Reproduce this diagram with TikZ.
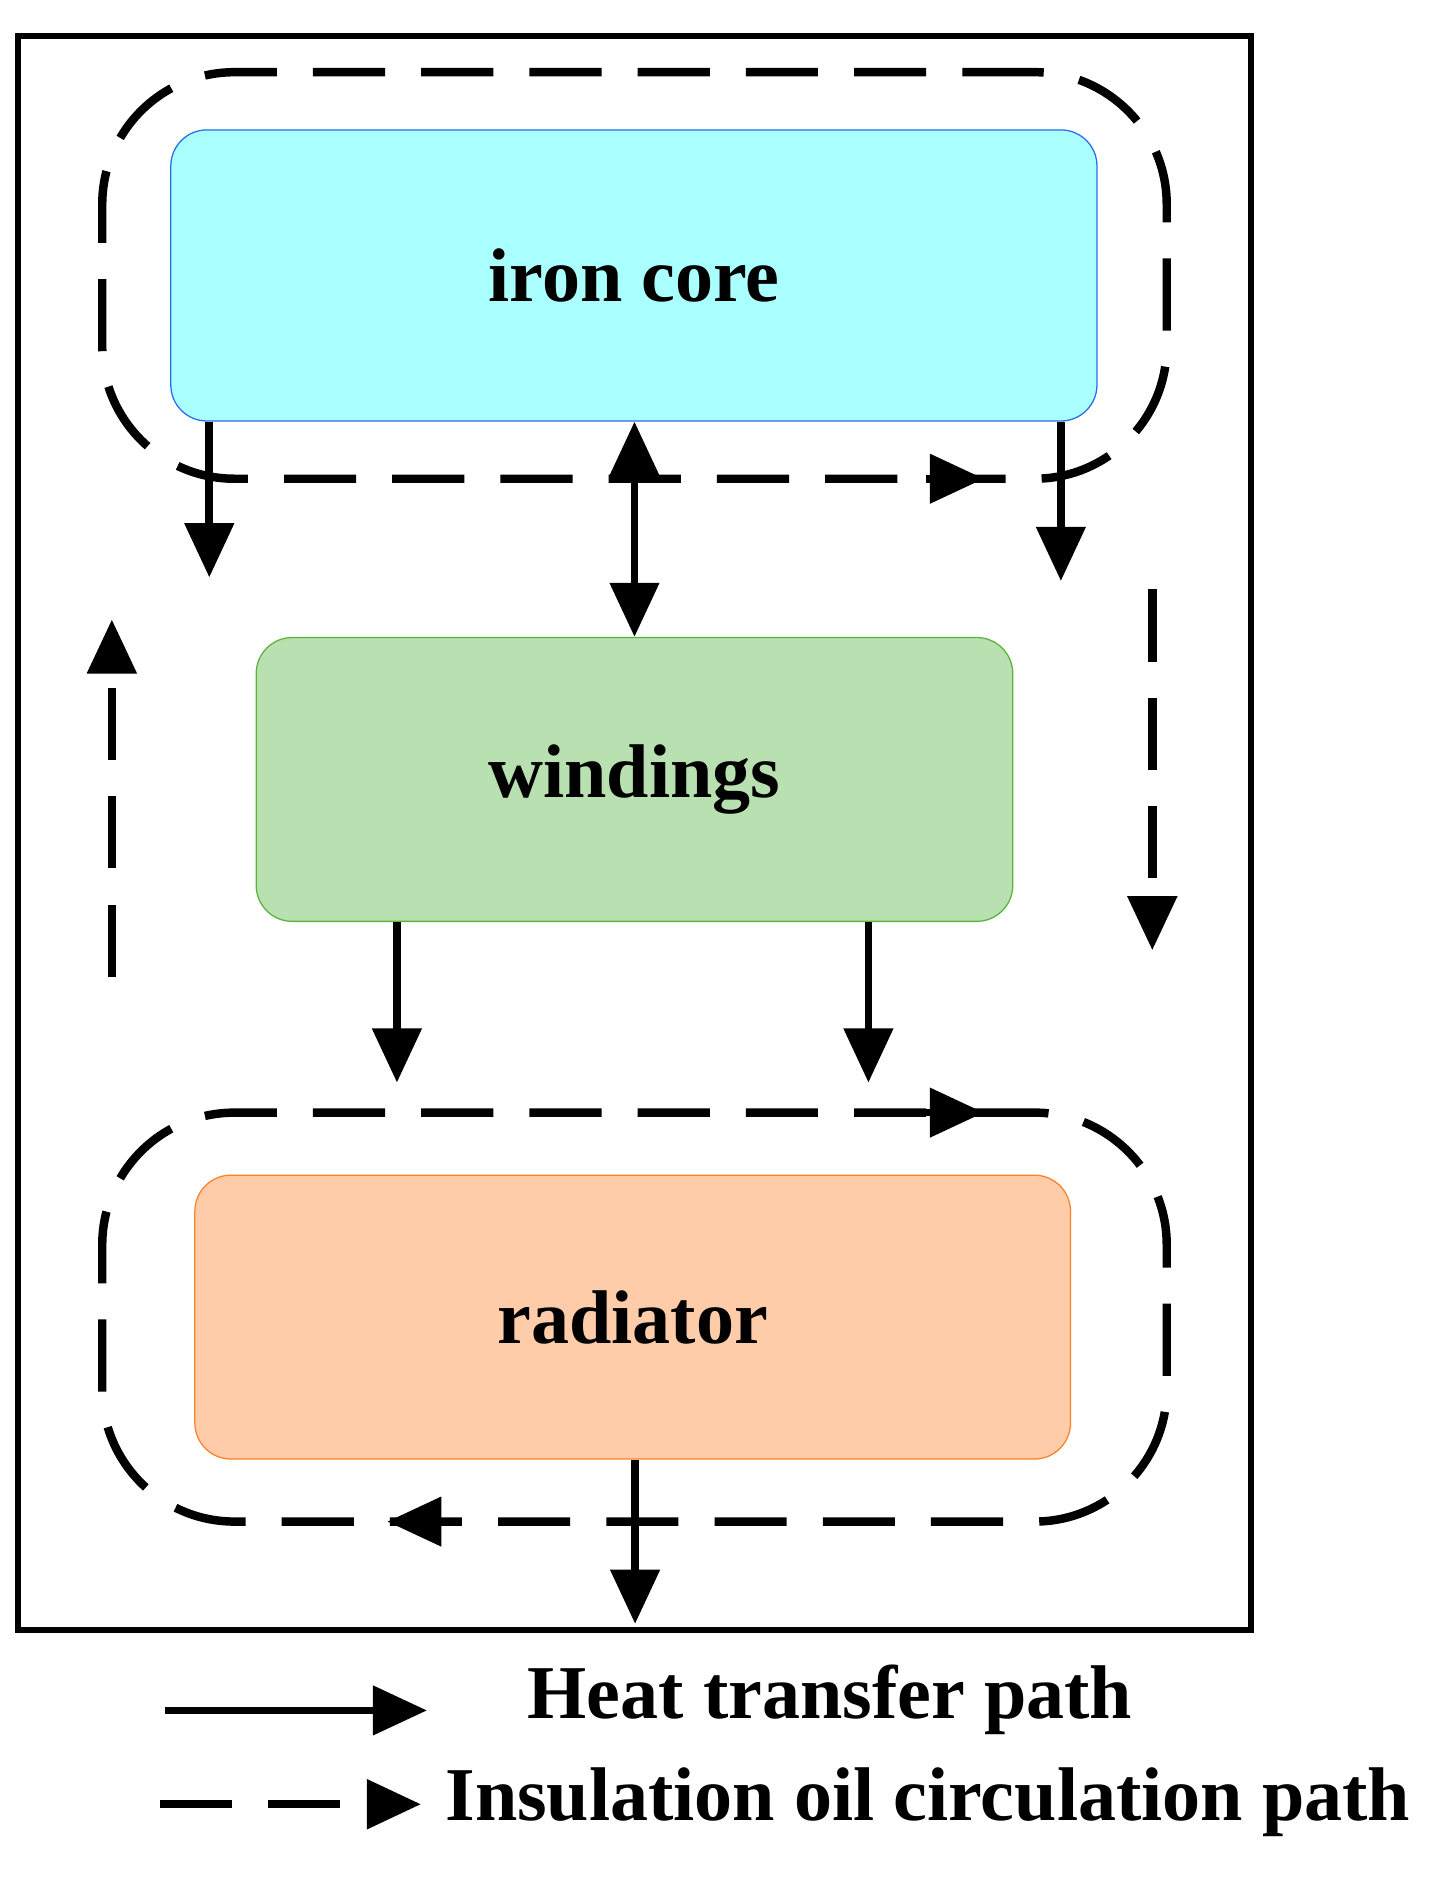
\documentclass[tikz,border=0pt]{standalone}
\usepackage{fontspec}
\setmainfont{Liberation Serif}
\usetikzlibrary{arrows.meta}
\begin{document}
\begin{tikzpicture}[x=0.02cm,y=-0.02cm,
  tip/.style={-{Triangle[length=0.9cm,width=0.8cm]}},
  heat/.style={line width=3.6pt,tip},
  oil/.style={line width=4pt,dash pattern=on 1.2cm off 0.6cm},
  box/.style={rounded corners=0.6cm,line width=0.6pt,inner sep=0pt,font=\fontsize{36}{42}\selectfont\bfseries},
  loop/.style={draw,oil,rounded corners=2.2cm,inner sep=0pt}]
\useasboundingbox (0,0) rectangle (1190,1563);
\node[draw,line width=2.8pt,minimum width=1025*0.02cm,minimum height=1325*0.02cm,inner sep=0pt] (frame) at (527.5,692.5) {};
% dashed loops
\node[loop,minimum width=885*0.02cm,minimum height=338*0.02cm] (loop1) at (527.5,229) {};
\node[loop,minimum width=885*0.02cm,minimum height=340*0.02cm] (loop2) at (527.5,1095) {};
% boxes
\node[box,draw={rgb,255:red,40;green,110;blue,230},fill={rgb,255:red,170;green,255;blue,255},minimum width=770*0.02cm,minimum height=242*0.02cm] (core) at (527,229) {iron core};
\node[box,draw={rgb,255:red,90;green,180;blue,60},fill={rgb,255:red,185;green,224;blue,176},minimum width=629*0.02cm,minimum height=236*0.02cm] (wind) at (527.5,648) {windings};
\node[box,draw={rgb,255:red,250;green,130;blue,40},fill={rgb,255:red,255;green,204;blue,170},minimum width=728*0.02cm,minimum height=236*0.02cm] (rad) at (526,1095) {radiator};
% heat arrows
\coordinate (a1) at (174,480); \coordinate (a2) at (882,483);
\draw[heat] (core.south -| a1) -- (a1);
\draw[heat] (core.south -| a2) -- (a2);
\draw[line width=3.6pt,{Triangle[length=0.9cm,width=0.8cm]}-{Triangle[length=0.9cm,width=0.8cm]}] (core.south -| wind.north) -- (wind.north);
\coordinate (b1) at (330,900); \coordinate (b2) at (722,900);
\draw[heat] (wind.south -| b1) -- (b1);
\draw[heat] (wind.south -| b2) -- (b2);
\coordinate (c1) at (528,1350);
\draw[heat] (rad.south -| c1) -- (c1);
% oil arrows on loops
\coordinate (t1s) at (770,398); \coordinate (t1e) at (818,398);
\draw[tip,line width=3.6pt] (t1s) -- (t1e);
\coordinate (t2s) at (770,925); \coordinate (t2e) at (818,925);
\draw[tip,line width=3.6pt] (t2s) -- (t2e);
\coordinate (t3s) at (370,1265); \coordinate (t3e) at (322,1265);
\draw[tip,line width=3.6pt] (t3s) -- (t3e);
% side dashed paths
\coordinate (l1) at (93,812); \coordinate (l2) at (93,515);
\draw[oil,tip] (l1) -- (l2);
\coordinate (r1) at (958,490); \coordinate (r2) at (958,790);
\draw[oil,tip] (r1) -- (r2);
% legend
\coordinate (h1) at (137,1422); \coordinate (h2) at (355,1422);
\draw[heat] (h1) -- (h2);
\node[font=\fontsize{36}{42}\selectfont\bfseries] (ht) at (690,1413) {Heat transfer path};
\coordinate (o1) at (133,1500); \coordinate (o2) at (350,1500);
\draw[oil,tip] (o1) -- (o2);
\node[font=\fontsize{36}{42}\selectfont\bfseries,anchor=west,inner sep=0pt] (ot) at (370,1498) {Insulation oil circulation path};
\end{tikzpicture}
\end{document}
